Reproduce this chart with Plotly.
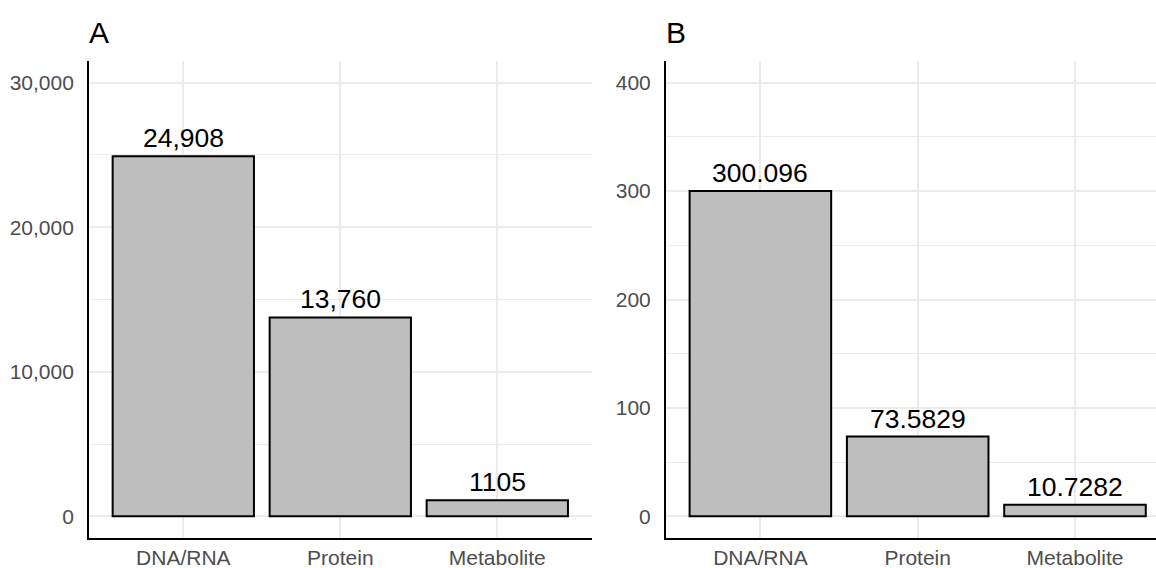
import plotly.graph_objects as go

categories = ["DNA/RNA", "Protein", "Metabolite"]
values_a = [24908, 13760, 1105]
labels_a = ["24,908", "13,760", "1105"]
values_b = [300.096, 73.5829, 10.7282]
labels_b = ["300.096", "73.5829", "10.7282"]
panel_titles = ["A", "B"]

W, H = 1156, 568
FONT = "Liberation Sans, Arial, sans-serif"
GRID = "#EBEBEB"

fig = go.Figure()

fig.add_trace(go.Bar(x=categories, y=values_a, width=0.9, xaxis="x", yaxis="y",
                     marker=dict(color="#BEBEBE", line=dict(color="black", width=2)),
                     hoverinfo="skip"))
fig.add_trace(go.Bar(x=categories, y=values_b, width=0.9, xaxis="x2", yaxis="y2",
                     marker=dict(color="#BEBEBE", line=dict(color="black", width=2)),
                     hoverinfo="skip"))

annotations = []
for c, v, t in zip(categories, values_a, labels_a):
    annotations.append(dict(x=c, y=v, xref="x", yref="y", text=t, showarrow=False,
                            yanchor="bottom", yshift=1,
                            font=dict(family=FONT, size=26.5, color="black")))
for c, v, t in zip(categories, values_b, labels_b):
    annotations.append(dict(x=c, y=v, xref="x2", yref="y2", text=t, showarrow=False,
                            yanchor="bottom", yshift=1,
                            font=dict(family=FONT, size=26.5, color="black")))

y0 = 30 / H
y1 = (H - 61) / H
dom_a = [89.1 / W, 591.5 / W]
dom_b = [666.0 / W, 1.0]

for i, (title, dom) in enumerate(zip(panel_titles, [dom_a, dom_b])):
    annotations.append(dict(x=dom[0] - 2.0 / W, y=(H - 32) / H, xref="paper", yref="paper",
                            text=title, showarrow=False, xanchor="left", yanchor="middle",
                            font=dict(family=FONT, size=30, color="black")))

axis_common = dict(showline=True, linecolor="black", linewidth=2, ticks="",
                   showgrid=True, gridcolor=GRID, gridwidth=2, zeroline=False,
                   automargin=False,
                   tickfont=dict(family=FONT, size=21, color="#4D4D4D"))

fig.update_layout(
    width=W, height=H,
    margin=dict(l=0, r=0, t=0, b=0),
    paper_bgcolor="white", plot_bgcolor="white",
    showlegend=False,
    annotations=annotations,
    xaxis=dict(domain=dom_a, anchor="y", type="category", range=[-0.6, 2.6],
               ticklabelstandoff=0, **axis_common),
    yaxis=dict(domain=[y0, y1], anchor="x", range=[-1500, 31500],
               tickvals=[0, 10000, 20000, 30000], ticktext=["0", "10,000", "20,000", "30,000"],
               minor=dict(showgrid=True, tickvals=[5000, 15000, 25000], gridcolor=GRID, gridwidth=1),
               ticklabelstandoff=9, **axis_common),
    xaxis2=dict(domain=dom_b, anchor="y2", type="category", range=[-0.6, -0.6 + (W - 666.0) / 157.3],
                ticklabelstandoff=0, **axis_common),
    yaxis2=dict(domain=[y0, y1], anchor="x2", range=[-20, 420],
                tickvals=[0, 100, 200, 300, 400],
                minor=dict(showgrid=True, tickvals=[50, 150, 250, 350], gridcolor=GRID, gridwidth=1),
                ticklabelstandoff=9, **axis_common),
)

fig.write_html("out.html", config={"displayModeBar": False},
               post_script="document.body.style.margin='0px';document.body.style.overflow='hidden';")
